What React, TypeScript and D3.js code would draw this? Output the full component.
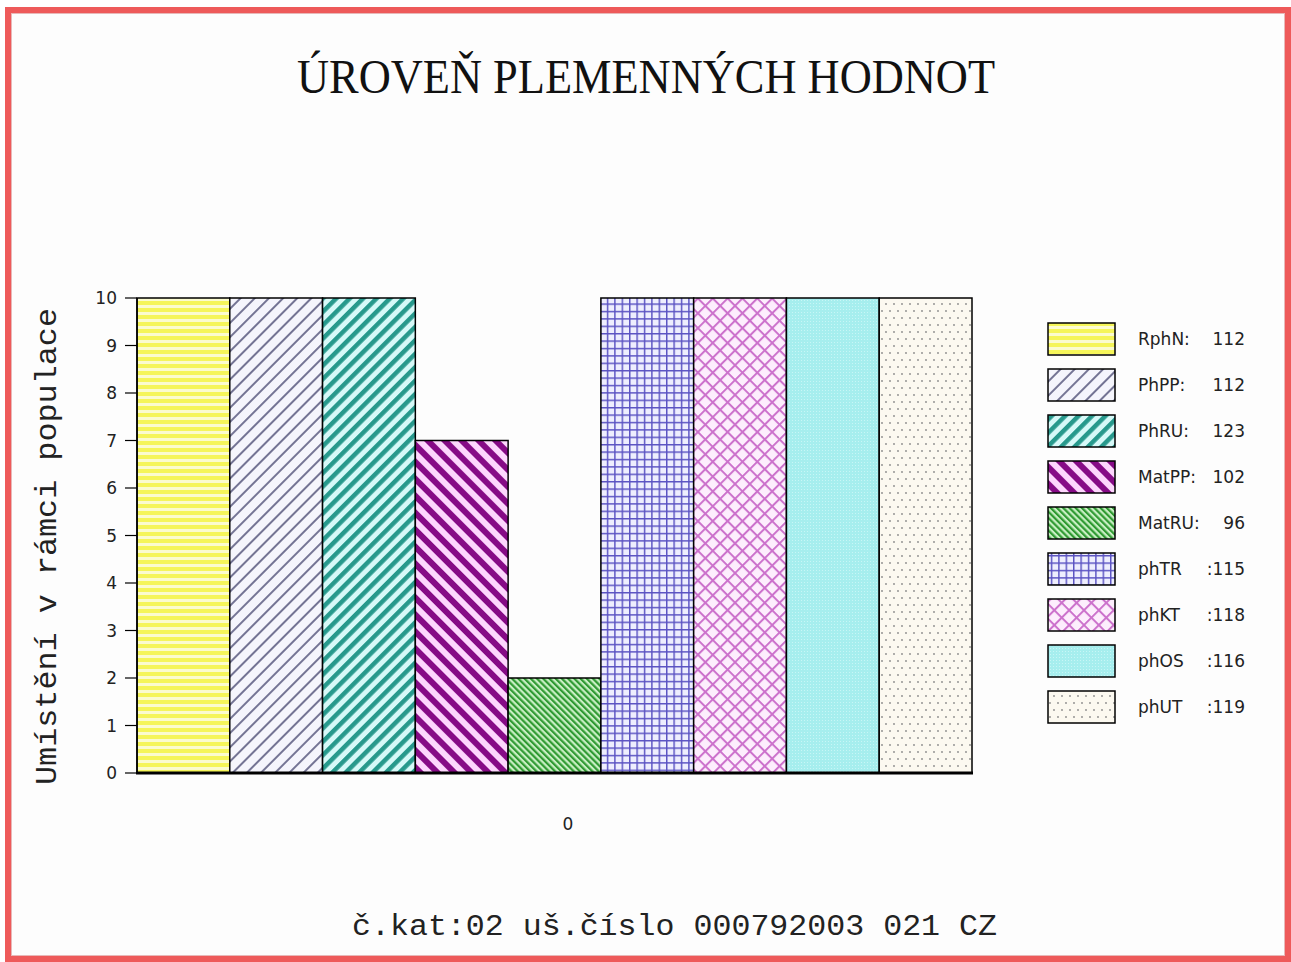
import React from "react";
import * as d3 from "d3";

const title = "ÚROVEŇ PLEMENNÝCH HODNOT";
const yAxisTitle = "Umístění v rámci populace";
const footer = "č.kat:02 uš.číslo 000792003 021 CZ";
const groupLabels = ["0"];
const categories = ["RphN", "PhPP", "PhRU", "MatPP", "MatRU", "phTR", "phKT", "phOS", "phUT"];
const values = [10, 10, 10, 7, 2, 10, 10, 10, 10];
const legendNames = ["RphN:", "PhPP:", "PhRU:", "MatPP:", "MatRU:", "phTR", "phKT", "phOS", "phUT"];
const legendValues = ["112", "112", "123", "102", "96", ":115", ":118", ":116", ":119"];
const yTicks = [0, 1, 2, 3, 4, 5, 6, 7, 8, 9, 10];

const W = 1291;
const H = 962;

function Patterns() {
  return (
    <defs>
      <pattern id="p0" width="8" height="7" patternUnits="userSpaceOnUse">
        <rect width="8" height="7" fill="#fbfbcf" />
        <rect width="8" height="4" fill="#f5f55a" />
      </pattern>
      <pattern id="p1" width="10" height="10" patternUnits="userSpaceOnUse" patternTransform="rotate(45)">
        <rect width="10" height="10" fill="#f5f5fc" />
        <line x1="1" y1="0" x2="1" y2="10" stroke="#2e2e5c" strokeWidth="1.3" />
      </pattern>
      <pattern id="p2" width="9.5" height="10" patternUnits="userSpaceOnUse" patternTransform="rotate(45)">
        <rect width="9.5" height="10" fill="#d6f9f8" />
        <rect width="4.5" height="10" fill="#27998c" />
      </pattern>
      <pattern id="p3" width="12" height="10" patternUnits="userSpaceOnUse" patternTransform="rotate(-45)">
        <rect width="12" height="10" fill="#fdd6fd" />
        <rect width="6" height="10" fill="#860b86" />
      </pattern>
      <pattern id="p4" width="4.4" height="10" patternUnits="userSpaceOnUse" patternTransform="rotate(-45)">
        <rect width="4.4" height="10" fill="#c9efc4" />
        <rect width="2.2" height="10" fill="#2f9a32" />
      </pattern>
      <pattern id="p5" width="7.4" height="7.4" patternUnits="userSpaceOnUse">
        <rect width="7.4" height="7.4" fill="#eeeefe" />
        <line x1="0.7" y1="0" x2="0.7" y2="7.4" stroke="#5a52c2" strokeWidth="1.5" />
        <line x1="0" y1="0.7" x2="7.4" y2="0.7" stroke="#5a52c2" strokeWidth="1.5" />
      </pattern>
      <pattern id="p6" width="10.5" height="10.5" patternUnits="userSpaceOnUse" patternTransform="rotate(45)">
        <rect width="10.5" height="10.5" fill="#fdeefd" />
        <line x1="1" y1="0" x2="1" y2="10.5" stroke="#cc72cc" strokeWidth="2" />
        <line x1="0" y1="1" x2="10.5" y2="1" stroke="#cc72cc" strokeWidth="2" />
      </pattern>
      <pattern id="p7" width="3" height="3" patternUnits="userSpaceOnUse">
        <rect width="3" height="3" fill="#a6eeee" />
        <rect x="0" y="0" width="1" height="1" fill="#c8f6f6" />
      </pattern>
      <pattern id="p8" width="8" height="14" patternUnits="userSpaceOnUse">
        <rect width="8" height="14" fill="#fcf9f0" />
        <circle cx="2" cy="3" r="0.9" fill="#8a8a8a" />
        <circle cx="6" cy="10" r="0.9" fill="#8a8a8a" />
      </pattern>
    </defs>
  );
}

export default function App() {
  const x = d3.scaleBand<string>().domain(categories).range([137, 972]).padding(0);
  const y = d3.scaleLinear().domain([0, 10]).range([773, 298]);
  const legendY = d3.scaleBand<string>().domain(categories).range([316, 730]);

  return (
    <svg
      width={W}
      height={H}
      style={{ position: "absolute", left: 0, top: 0, background: "#ffffff" }}
    >
      <Patterns />
      <rect x={8} y={10} width={1280} height={949} fill="#fdfdfd" stroke="#ee5a5a" strokeWidth={6} />
      <rect x={11.5} y={13.5} width={1273} height={942} fill="none" stroke="#e8b8b8" strokeWidth={1} />

      <text
        x={297}
        y={93}
        fontFamily="'Liberation Serif', 'DejaVu Serif', serif"
        fontSize={48}
        textLength={698}
        lengthAdjust="spacingAndGlyphs"
        fill="#111"
      >
        {title}
      </text>

      {categories.map((c, i) => (
        <rect
          key={c}
          x={x(c)}
          y={y(values[i])}
          width={x.bandwidth()}
          height={y(0) - y(values[i])}
          fill={`url(#p${i})`}
          stroke="#000"
          strokeWidth={1.5}
        />
      ))}

      <line x1={137} y1={y(10)} x2={137} y2={y(0)} stroke="#000" strokeWidth={1.5} />
      <line x1={136} y1={y(0)} x2={973} y2={y(0)} stroke="#000" strokeWidth={3} />
      {yTicks.map((t) => (
        <g key={t}>
          <line x1={125} y1={y(t)} x2={137} y2={y(t)} stroke="#000" strokeWidth={1.2} />
          <text
            x={117}
            y={y(t) + 6}
            textAnchor="end"
            fontFamily="'DejaVu Sans', sans-serif"
            fontSize={17}
            fill="#222"
          >
            {t}
          </text>
        </g>
      ))}

      {groupLabels.map((g) => (
        <text
          key={g}
          x={568}
          y={830}
          textAnchor="middle"
          fontFamily="'DejaVu Sans', sans-serif"
          fontSize={17}
          fill="#222"
        >
          {g}
        </text>
      ))}

      <text
        transform={`translate(56,${785}) rotate(-90)`}
        fontFamily="'Liberation Mono', 'DejaVu Sans Mono', monospace"
        fontSize={29}
        textLength={477}
        lengthAdjust="spacingAndGlyphs"
        fill="#222"
      >
        {yAxisTitle}
      </text>

      {categories.map((c, i) => {
        const top = legendY(c)! + 7;
        return (
          <g key={c}>
            <rect x={1048} y={top} width={67} height={32} fill={`url(#p${i})`} stroke="#000" strokeWidth={1.5} />
            <text
              x={1138}
              y={top + 22}
              fontFamily="'DejaVu Sans', sans-serif"
              fontSize={17}
              fill="#222"
            >
              {legendNames[i]}
            </text>
            <text
              x={1245}
              y={top + 22}
              textAnchor="end"
              fontFamily="'DejaVu Sans', sans-serif"
              fontSize={17}
              fill="#222"
            >
              {legendValues[i]}
            </text>
          </g>
        );
      })}

      <text
        x={352}
        y={935}
        fontFamily="'Liberation Mono', 'DejaVu Sans Mono', monospace"
        fontSize={29}
        textLength={645}
        lengthAdjust="spacingAndGlyphs"
        fill="#222"
      >
        {footer}
      </text>
    </svg>
  );
}
